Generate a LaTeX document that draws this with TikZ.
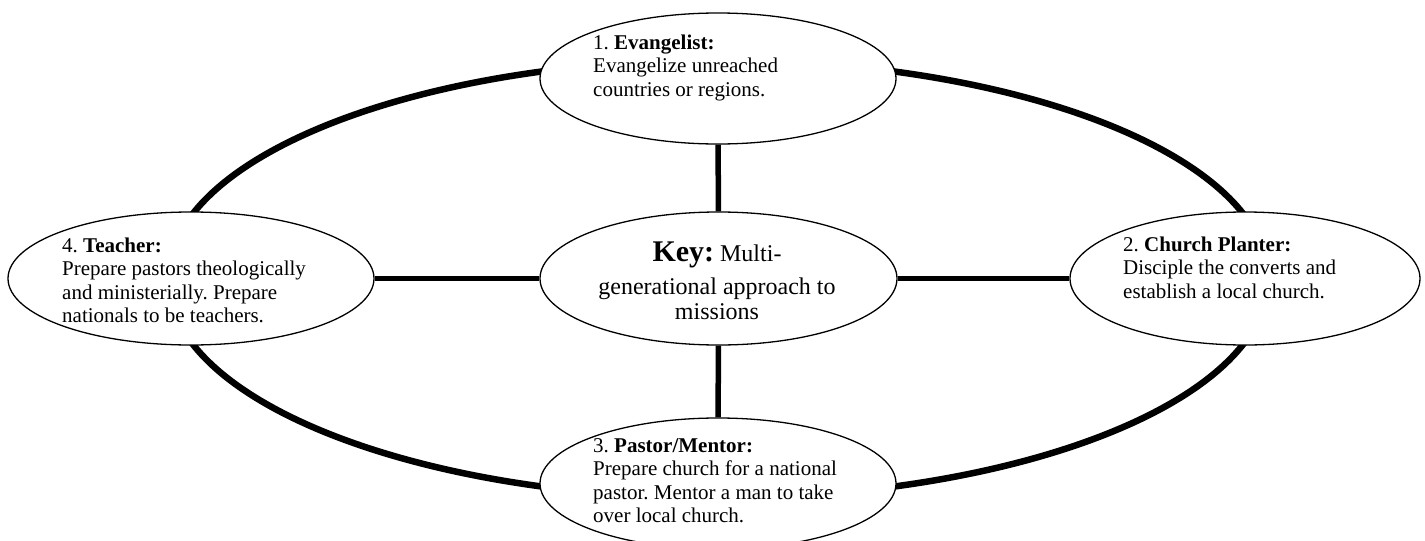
\documentclass[tikz,border=0pt]{standalone}
\usepackage{fontspec}
\setmainfont{Liberation Serif}
\usetikzlibrary{shapes.geometric}
\pgfdeclarelayer{bg}
\pgfsetlayers{bg,main}
\frenchspacing
\begin{document}
\begin{tikzpicture}[x=1pt,y=-1pt,
  oval/.style={ellipse, draw, fill=white, line width=1.3pt, inner sep=0pt},
  txt/.style={anchor=base west, inner sep=0pt, font=\fontsize{21}{23.5}\selectfont\frenchspacing},
  keytxt/.style={anchor=base, inner sep=0pt, font=\fontsize{24}{24.5}\selectfont\frenchspacing},
  spoke/.style={line width=5.5pt},
  ring/.style={line width=6.5pt}]
\useasboundingbox (0,0) rectangle (1425,541);
% ellipses
\node[oval, minimum width=356pt, minimum height=131pt] (top) at (718,78.5) {};
\node[oval, minimum width=357pt, minimum height=133pt] (key) at (718.5,278.5) {};
\node[oval, minimum width=366pt, minimum height=133pt] (teacher) at (191,278.5) {};
\node[oval, minimum width=350pt, minimum height=133pt] (planter) at (1245,278.5) {};
\node[oval, minimum width=356pt, minimum height=131pt] (pastor) at (718,483.5) {};
% ring and spokes behind
\begin{pgfonlayer}{bg}
\draw[ring] (718,279) ellipse [x radius=550pt, y radius=219pt];
\draw[spoke] (top) -- (key);
\draw[spoke] (key) -- (pastor);
\draw[spoke] (teacher) -- (key);
\draw[spoke] (key) -- (planter);
\end{pgfonlayer}
% texts
\node[txt] (t1) at (593,49) {\begin{tabular}[t]{@{}l@{}}1. \textbf{Evangelist:}\\ Evangelize unreached\\ countries or regions.\end{tabular}};
\node[txt] (t4) at (62,252) {\begin{tabular}[t]{@{}l@{}}4. \textbf{Teacher:}\\ Prepare pastors theologically\\ and ministerially. Prepare\\ nationals to be teachers.\end{tabular}};
\node[txt] (t2) at (1123,251) {\begin{tabular}[t]{@{}l@{}}2. \textbf{Church Planter:}\\ Disciple the converts and\\ establish a local church.\end{tabular}};
\node[txt] (t3) at (593,452) {\begin{tabular}[t]{@{}l@{}}3. \textbf{Pastor/Mentor:}\\ Prepare church for a national\\ pastor. Mentor a man to take\\ over local church.\end{tabular}};
\node[keytxt] (tk) at (717,261) {\begin{tabular}[t]{@{}c@{}}{\fontsize{30}{30}\selectfont\textbf{Key:}} Multi-\\[9pt] generational approach to\\ missions\end{tabular}};
\end{tikzpicture}
\end{document}
